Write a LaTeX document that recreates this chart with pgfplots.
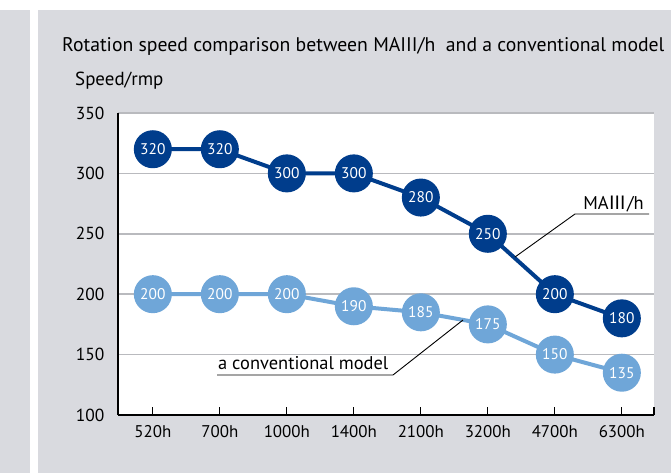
\documentclass[border=0pt]{standalone}
\usepackage{pgfplots}
\pgfplotsset{compat=1.18}
\usepackage{fontspec}
\setmainfont{PT Sans}
\newfontfamily\cjk{Noto Sans CJK JP}
\definecolor{bg}{RGB}{217,218,223}
\definecolor{navy}{RGB}{0,61,140}
\definecolor{lblue}{RGB}{111,166,216}
\definecolor{gridg}{RGB}{185,186,190}
\begin{document}
\begin{tikzpicture}[x=1bp,y=1bp]
\useasboundingbox (0,0) rectangle (671,473);
\fill[white] (0,0) rectangle (671,473);
\fill[bg] (0,0) rectangle (30,463);
\fill[bg] (38,0) rectangle (671,463);
\node[anchor=base west, inner sep=0, font=\fontsize{19.8}{22}\selectfont] at (62,421) {Rotation speed comparison between MAIII/h\ \ and a conventional model};
\node[anchor=base west, inner sep=0, font=\fontsize{19}{22}\selectfont] at (75,387) {Speed/rmp};
\begin{axis}[
  at={(118bp,58bp)}, anchor=south west, scale only axis,
  width=536bp, height=302bp,
  xmin=-0.52, xmax=7.48, ymin=100, ymax=350,
  axis lines=left, axis line style={-, black, line width=1.3bp},
  axis background/.style={fill=white},
  xtick={0,...,7},
  xticklabels={520h,700h,1000h,1400h,2100h,3200h,4700h,6300h},
  extra x ticks={7.48}, extra x tick labels={},
  ytick={100,150,...,350},
  ymajorgrids, grid style={gridg, line width=1.5bp},
  tick align=inside, major tick length=8bp,
  xtick style={black, line width=1.3bp},
  ytick style={draw=none},
  xticklabel style={font=\fontsize{17}{19}\selectfont, yshift=-7bp},
  yticklabel style={font=\fontsize{17.5}{19}\selectfont, xshift=-10bp},
  /pgf/number format/assume math mode=true,
  clip=false,
]
\addplot[lblue, line width=4bp, mark=*, mark size=17bp,
  mark options={fill=lblue, draw=lblue},
  nodes near coords,
  nodes near coords style={anchor=center, text=white, font=\fontsize{15.5}{17}\selectfont}]
  coordinates {(0,200) (1,200) (2,200) (3,190) (4,185) (5,175) (6,150) (7,135)};
\addplot[navy, line width=4bp, mark=*, mark size=17bp,
  mark options={fill=navy, draw=navy},
  nodes near coords,
  nodes near coords style={anchor=center, text=white, font=\fontsize{15.5}{17}\selectfont}]
  coordinates {(0,320) (1,320) (2,300) (3,300) (4,280) (5,250) (6,200) (7,180)};
\end{axis}
% annotations
\draw[black, line width=0.9bp] (649,259) -- (575,259) -- (515,216);
\node[anchor=base east, inner sep=0, font=\fontsize{18.5}{20}\selectfont] at (644,263) {MA{\cjk Ⅲ}/h};
\draw[black, line width=0.9bp] (217,98) -- (393,98) -- (463,153);
\node[anchor=base west, inner sep=0, font=\fontsize{18.5}{20}\selectfont] at (218,103) {a conventional model};
\end{tikzpicture}
\end{document}
